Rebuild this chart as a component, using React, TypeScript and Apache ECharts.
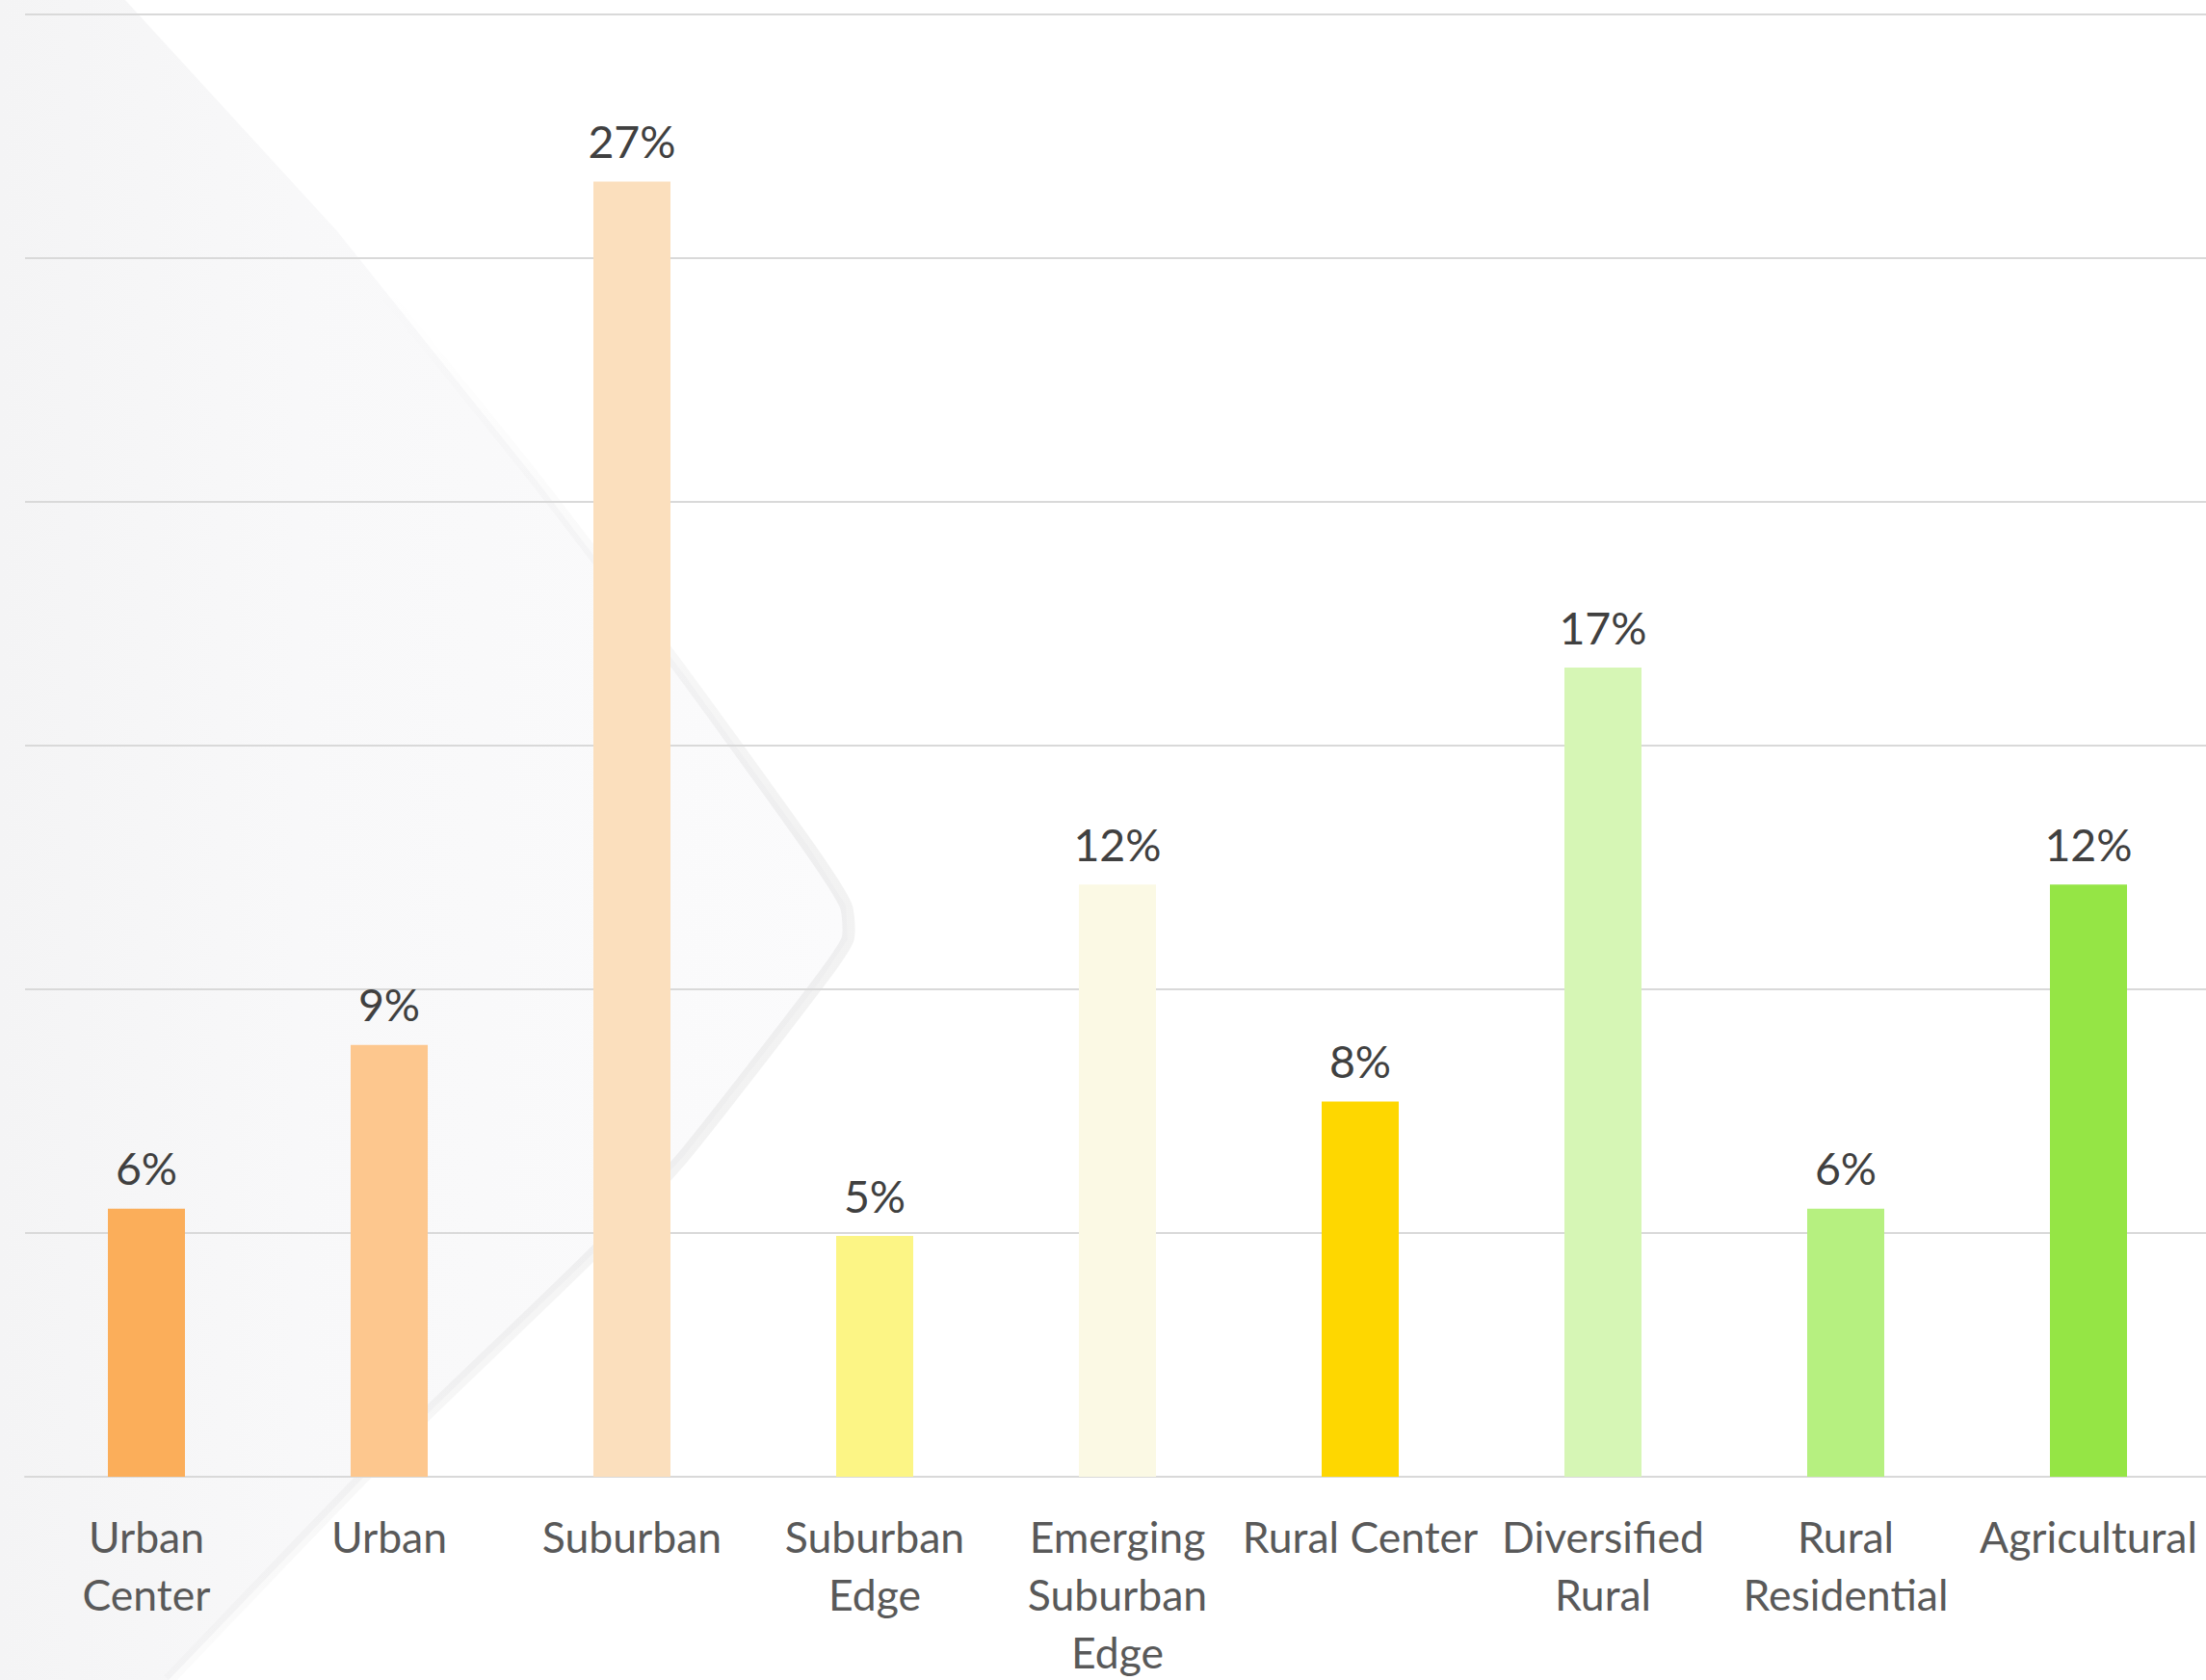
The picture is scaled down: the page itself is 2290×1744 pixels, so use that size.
import React, { useEffect, useRef } from "react";
import * as echarts from "echarts";

const categories = [
  "Urban\nCenter",
  "Urban",
  "Suburban",
  "Suburban\nEdge",
  "Emerging\nSuburban\nEdge",
  "Rural Center",
  "Diversified\nRural",
  "Rural\nResidential",
  "Agricultural",
];
const shares = [5.5, 8.86, 26.57, 4.94, 12.15, 7.7, 16.6, 5.5, 12.15];
const barColors = [
  "#FBAE5A",
  "#FDC78E",
  "#FBDFBD",
  "#FCF585",
  "#FBF9E4",
  "#FED700",
  "#D6F6B5",
  "#B6F080",
  "#95E545",
];

export default function App() {
  const ref = useRef<HTMLDivElement>(null);
  useEffect(() => {
    document.body.style.margin = "0";
    const chart = echarts.init(ref.current!, null, { renderer: "svg" });
    chart.setOption({
      animation: false,
      backgroundColor: "#ffffff",
      graphic: [
        {
          type: "polygon",
          z: -10,
          silent: true,
          shape: {
            points: [
              [0, 0],
              [130, 0],
              [350, 240],
              [558, 500],
              [710, 700],
              [840, 880],
              [878, 940],
              [880, 975],
              [850, 1020],
              [710, 1200],
              [617, 1300],
              [400, 1510],
              [175, 1744],
              [0, 1744],
            ],
          },
          style: {
            fill: {
              type: "linear",
              x: 0,
              y: 0,
              x2: 1,
              y2: 0,
              colorStops: [
                { offset: 0, color: "#f4f4f5" },
                { offset: 0.35, color: "#f8f8f9" },
                { offset: 1, color: "#fbfbfc" },
              ],
            },
          },
        },
        {
          type: "polyline",
          z: -9,
          silent: true,
          shape: {
            points: [
              [380, 280],
              [558, 500],
              [710, 700],
              [840, 880],
              [878, 940],
              [880, 975],
              [850, 1020],
              [710, 1200],
              [617, 1300],
              [400, 1510],
              [175, 1744],
            ],
            smooth: 0.2,
          },
          style: {
            lineWidth: 13,
            stroke: {
              type: "linear",
              x: 0,
              y: 0,
              x2: 0,
              y2: 1,
              colorStops: [
                { offset: 0, color: "rgba(0,0,0,0)" },
                { offset: 0.15, color: "rgba(0,0,0,0.015)" },
                { offset: 0.4, color: "rgba(0,0,0,0.05)" },
                { offset: 0.62, color: "rgba(0,0,0,0.05)" },
                { offset: 0.85, color: "rgba(0,0,0,0.03)" },
                { offset: 1, color: "rgba(0,0,0,0.015)" },
              ],
            },
            fill: "none",
          },
        },
      ],
      grid: { left: 26, top: 15, width: 2268, height: 1520, containLabel: false },
      xAxis: {
        type: "category",
        data: categories,
        axisTick: { show: false },
        axisLine: { lineStyle: { color: "#d9d9d9", width: 2 } },
        axisLabel: {
          interval: 0,
          margin: 31,
          fontFamily: "Lato",
          fontSize: 44.5,
          lineHeight: 60,
          color: "#595959",
        },
      },
      yAxis: {
        type: "value",
        min: 0,
        max: 30,
        interval: 5,
        axisLabel: { show: false },
        axisLine: { show: false },
        axisTick: { show: false },
        splitLine: { lineStyle: { color: "#d9d9d9", width: 2 } },
      },
      series: [
        {
          type: "bar",
          data: shares.map((v, i) => ({ value: v, itemStyle: { color: barColors[i] } })),
          barWidth: 80,
          label: {
            show: true,
            position: "top",
            distance: 19,
            fontFamily: "Lato",
            fontSize: 46.5,
            color: "#404040",
            formatter: (p: any) => Math.round(p.value) + "%",
          },
        },
      ],
    });
    return () => chart.dispose();
  }, []);
  return (
    <div style={{ width: 2290, height: 1744, overflow: "hidden", position: "relative" }}>
      <div ref={ref} style={{ width: 2300, height: 1744 }} />
    </div>
  );
}
